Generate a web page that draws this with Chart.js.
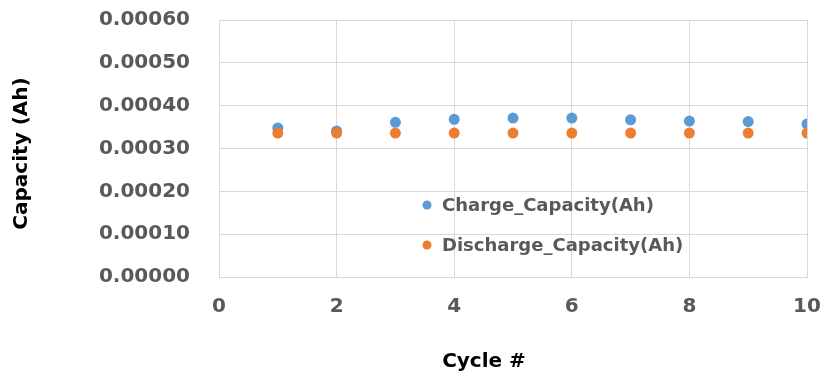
<!DOCTYPE html>
<html>
<head>
<meta charset="utf-8">
<script src="https://cdn.jsdelivr.net/npm/chart.js@4/dist/chart.umd.min.js"></script>
<style>
  html, body { margin: 0; padding: 0; background: #ffffff; }
  #wrap { width: 825px; height: 377px; }
</style>
</head>
<body>
<div id="wrap"><canvas id="cap" width="825" height="377"></canvas></div>
<script>
// Cycle numbers and measured capacities (Ah)
const cycles = [1, 2, 3, 4, 5, 6, 7, 8, 9, 10];
const chargeCapacity = [0.000348, 0.000341, 0.000361, 0.000368, 0.000371, 0.000371, 0.000367, 0.000364, 0.000363, 0.000357];
const dischargeCapacity = [0.000336, 0.000336, 0.000336, 0.000336, 0.000336, 0.000336, 0.000336, 0.000336, 0.000336, 0.000336];

// Axis ticks
const cycleTicks = [0, 2, 4, 6, 8, 10];
const capacityTicks = [0, 0.0001, 0.0002, 0.0003, 0.0004, 0.0005, 0.0006];

const seriesNames = ['Charge_Capacity(Ah)', 'Discharge_Capacity(Ah)'];
const seriesColors = ['#5B9BD5', '#ED7D31'];
const xTitle = 'Cycle #';
const yTitle = 'Capacity (Ah)';

const FONT = 'DejaVu Sans';
const GRID = '#d9d9d9';
const TICK_COLOR = '#595959';

const toPoints = (xs, ys) => xs.map((x, i) => ({ x: x, y: ys[i] }));

// Remove the automatic label overhang so the layout padding alone sets the plot frame
const noOverhang = scale => {
  scale.paddingTop = 0;
  scale.paddingBottom = 0;
  scale.paddingLeft = 0;
  scale.paddingRight = 0;
};

// In-plot legend and both axis titles
const annotations = {
  id: 'annotations',
  afterDraw(chart) {
    const { ctx, chartArea } = chart;
    ctx.save();
    // legend
    ctx.font = 'bold 18px "' + FONT + '"';
    ctx.textBaseline = 'middle';
    ctx.textAlign = 'left';
    const lx = chartArea.left + 208;
    const ly = chartArea.top + 185;
    chart.data.datasets.forEach((ds, i) => {
      const y = ly + i * 40;
      ctx.fillStyle = ds.backgroundColor;
      ctx.beginPath();
      ctx.arc(lx, y, 4.5, 0, Math.PI * 2);
      ctx.fill();
      ctx.fillStyle = TICK_COLOR;
      ctx.fillText(ds.label, lx + 15, y + 1);
    });
    // axis titles
    ctx.font = 'bold 20px "' + FONT + '"';
    ctx.fillStyle = '#000000';
    ctx.textAlign = 'center';
    ctx.fillText(xTitle, (chartArea.left + chartArea.right) / 2 - 29, 362);
    ctx.translate(22, (chartArea.top + chartArea.bottom) / 2 + 5);
    ctx.rotate(-Math.PI / 2);
    ctx.fillText(yTitle, 0, 0);
    ctx.restore();
  }
};

new Chart(document.getElementById('cap'), {
  type: 'scatter',
  data: {
    datasets: [
      {
        label: seriesNames[0],
        data: toPoints(cycles, chargeCapacity),
        backgroundColor: seriesColors[0],
        borderColor: seriesColors[0],
        pointRadius: 5.5,
        pointBorderWidth: 0,
        order: 2
      },
      {
        label: seriesNames[1],
        data: toPoints(cycles, dischargeCapacity),
        backgroundColor: seriesColors[1],
        borderColor: seriesColors[1],
        pointRadius: 5.5,
        pointBorderWidth: 0,
        order: 1
      }
    ]
  },
  options: {
    responsive: false,
    animation: false,
    layout: { padding: { left: 0, top: 20, right: 18, bottom: 0 } },
    plugins: {
      legend: { display: false },
      tooltip: { enabled: false }
    },
    scales: {
      x: {
        type: 'linear',
        min: cycleTicks[0],
        max: cycleTicks[cycleTicks.length - 1],
        afterBuildTicks(scale) { scale.ticks = cycleTicks.map(v => ({ value: v })); },
        afterFit(scale) { scale.height = 100; noOverhang(scale); },
        grid: { color: GRID, lineWidth: 1, drawTicks: false },
        border: { color: GRID, width: 1 },
        ticks: {
          padding: 18,
          color: TICK_COLOR,
          font: { family: FONT, size: 20, weight: 'bold' },
          maxRotation: 0,
          callback: v => String(v)
        }
      },
      y: {
        type: 'linear',
        min: capacityTicks[0],
        max: capacityTicks[capacityTicks.length - 1],
        afterBuildTicks(scale) { scale.ticks = capacityTicks.map(v => ({ value: v })); },
        afterFit(scale) { scale.width = 219; noOverhang(scale); },
        grid: { color: GRID, lineWidth: 1, drawTicks: false },
        border: { color: GRID, width: 1 },
        ticks: {
          padding: 29,
          color: TICK_COLOR,
          font: { family: FONT, size: 20, weight: 'bold' },
          callback: v => Number(v).toFixed(5)
        }
      }
    }
  },
  plugins: [annotations]
});
</script>
</body>
</html>
